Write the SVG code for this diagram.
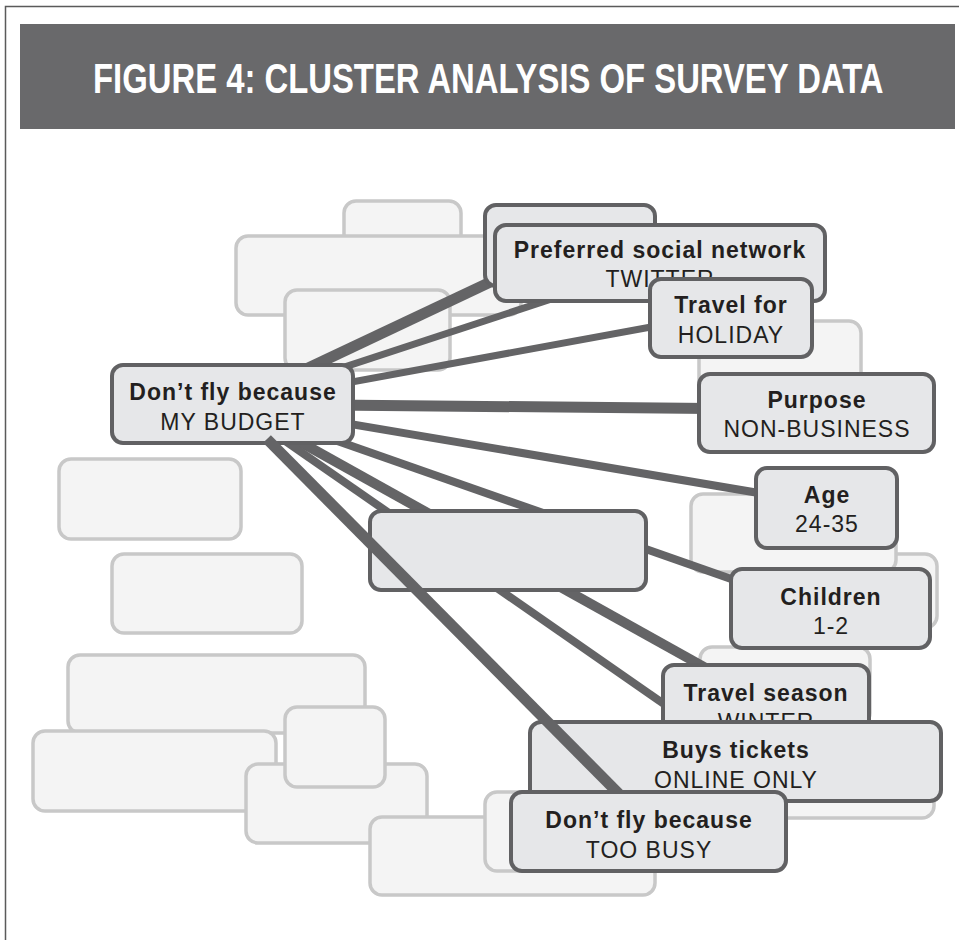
<svg xmlns="http://www.w3.org/2000/svg" width="959" height="940" viewBox="0 0 959 940">
  <style>
    .ghost { fill: #f4f4f4; stroke: #c8c8c8; stroke-width: 3.5; }
    .node rect { fill: #e6e7e9; stroke: #616163; stroke-width: 4; }
    .link { stroke: #646466; stroke-linecap: butt; fill: none; }
    .k { font-family: "Liberation Sans", Arial, sans-serif; font-weight: bold; font-size: 23px; letter-spacing: 1px; fill: #231f20; text-anchor: middle; }
    .v { font-family: "Liberation Sans", Arial, sans-serif; font-weight: normal; font-size: 23px; letter-spacing: 1px; fill: #231f20; text-anchor: middle; }
    .title { font-family: "Liberation Sans", Arial, sans-serif; font-weight: bold; font-size: 42px; fill: #ffffff; }
  </style>

  <rect width="959" height="940" fill="#ffffff"/>
  <!-- frame -->
  <path d="M5.5 940 V6.5 H959" fill="none" stroke="#5a5a5a" stroke-width="1.5"/>

  <!-- title bar; heading squeezed horizontally for a condensed look -->
  <g id="title">
    <rect x="20" y="24" width="935" height="105" fill="#69696b"/>
    <text class="title" x="0" y="0" transform="translate(93 93) scale(0.782 1)">FIGURE 4: CLUSTER ANALYSIS OF SURVEY DATA</text>
  </g>

  <!-- background (unlabelled) clusters -->
  <g id="background-clusters">
    <rect id="bg-1" class="ghost" x="344" y="201" width="117" height="60" rx="12"/>
    <rect id="bg-2" class="ghost" x="236" y="236" width="285" height="79" rx="12"/>
    <rect id="bg-3" class="ghost" x="285" y="290" width="165" height="80" rx="12"/>
    <rect id="bg-4" class="ghost" x="59" y="459" width="182" height="80" rx="12"/>
    <rect id="bg-5" class="ghost" x="112" y="554" width="190" height="79" rx="12"/>
    <rect id="bg-6" class="ghost" x="68" y="655" width="297" height="78" rx="12"/>
    <rect id="bg-7" class="ghost" x="33" y="731" width="243" height="80" rx="12"/>
    <rect id="bg-8" class="ghost" x="246" y="764" width="181" height="79" rx="12"/>
    <rect id="bg-9" class="ghost" x="285" y="707" width="100" height="80" rx="12"/>
    <rect id="bg-10" class="ghost" x="370" y="817" width="285" height="78" rx="12"/>
    <rect id="bg-11" class="ghost" x="485" y="792" width="210" height="79" rx="12"/>
    <rect id="bg-12" class="ghost" x="699" y="321" width="162" height="79" rx="12"/>
    <rect id="bg-13" class="ghost" x="852" y="554" width="85" height="74" rx="12"/>
    <rect id="bg-14" class="ghost" x="691" y="494" width="205" height="78" rx="12"/>
    <rect id="bg-15" class="ghost" x="700" y="647" width="170" height="78" rx="12"/>
    <rect id="bg-16" class="ghost" x="602" y="742" width="332" height="76" rx="12"/>
  </g>

  <!-- links from the MY BUDGET cluster -->
  <g id="connectors">
    <line class="link" x1="232" y1="404" x2="520" y2="268" stroke-width="11"/>
    <line class="link" x1="232" y1="404" x2="600" y2="283" stroke-width="7"/>
    <line class="link" x1="232" y1="404" x2="700" y2="318" stroke-width="7"/>
    <line class="link" x1="232" y1="404" x2="760" y2="409" stroke-width="11"/>
    <line class="link" x1="232" y1="404" x2="800" y2="500" stroke-width="8"/>
    <line class="link" x1="232" y1="404" x2="800" y2="603" stroke-width="8"/>
    <line class="link" x1="232" y1="404" x2="740" y2="687" stroke-width="10"/>
    <line class="link" x1="232" y1="404" x2="710" y2="736" stroke-width="8"/>
  </g>

  <g id="node-social-back" class="node">
    <rect x="485" y="205" width="170" height="81" rx="11"/>
  </g>
  <g id="node-social" class="node">
    <rect x="495" y="225" width="330" height="76" rx="11"/>
    <text class="k" x="660" y="258">Preferred social network</text>
    <text class="v" x="660" y="287">TWITTER</text>
  </g>
  <g id="node-travel-for" class="node">
    <rect x="650" y="279" width="162" height="78" rx="11"/>
    <text class="k" x="731" y="313">Travel for</text>
    <text class="v" x="731" y="343">HOLIDAY</text>
  </g>
  <g id="node-purpose" class="node">
    <rect x="699" y="374" width="235" height="78" rx="11"/>
    <text class="k" x="817" y="408">Purpose</text>
    <text class="v" x="817" y="437">NON-BUSINESS</text>
  </g>
  <g id="node-age" class="node">
    <rect x="756" y="468" width="141" height="80" rx="11"/>
    <text class="k" x="827" y="503">Age</text>
    <text class="v" x="827" y="532">24-35</text>
  </g>
  <g id="node-children" class="node">
    <rect x="731" y="569" width="199" height="79" rx="11"/>
    <text class="k" x="831" y="605">Children</text>
    <text class="v" x="831" y="634">1-2</text>
  </g>
  <g id="node-unlabelled" class="node">
    <rect x="370" y="511" width="276" height="79" rx="11"/>
  </g>
  <g id="node-season" class="node">
    <rect x="663" y="665" width="206" height="78" rx="11"/>
    <text class="k" x="766" y="701">Travel season</text>
    <text class="v" x="766" y="730">WINTER</text>
  </g>
  <g id="node-tickets" class="node">
    <rect x="530" y="722" width="411" height="79" rx="11"/>
    <text class="k" x="736" y="758">Buys tickets</text>
    <text class="v" x="736" y="788">ONLINE ONLY</text>
  </g>
  <g id="node-budget" class="node">
    <rect x="112" y="365" width="241" height="78" rx="11"/>
    <text class="k" x="233" y="400">Don’t fly because</text>
    <text class="v" x="233" y="430">MY BUDGET</text>
  </g>

  <!-- link drawn over the overlapping boxes, starting at the box edge -->
  <g id="connectors-front">
    <line class="link" x1="267" y1="439" x2="630" y2="805" stroke-width="11"/>
  </g>

  <g id="node-busy" class="node">
    <rect x="511" y="792" width="275" height="79" rx="11"/>
    <text class="k" x="649" y="828">Don’t fly because</text>
    <text class="v" x="649" y="858">TOO BUSY</text>
  </g>
</svg>
